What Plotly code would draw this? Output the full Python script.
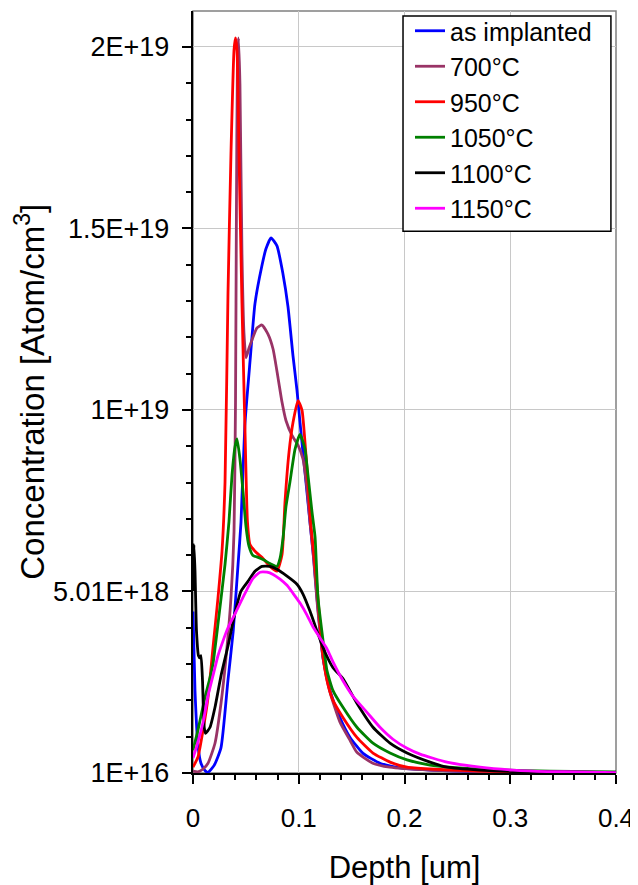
import numpy as np
import plotly.graph_objects as go

# depth in um, concentration in units of 1E+18 atom/cm3
dep_asimp = [0, 0.0019, 0.0047, 0.0076, 0.0113, 0.0142, 0.020, 0.0265, 0.033, 0.038, 0.0426, 0.0454, 0.049,
             0.054, 0.0586, 0.065, 0.069, 0.0738, 0.0794, 0.085, 0.0898, 0.0946, 0.0983, 0.1012, 0.1059, 0.1106,
             0.1144, 0.1173, 0.123, 0.1296, 0.139, 0.1485, 0.1608, 0.1768, 0.1957, 0.224, 0.271, 0.338, 0.4]
c_asimp = [4.46, 2.27, 0.77, 0.27, 0.08, 0.03, 0.22, 0.71, 2.55, 3.91, 5.75, 6.92, 9.58,
           11.38, 12.94, 13.96, 14.45, 14.75, 14.53, 13.77, 12.86, 11.49, 10.56, 9.66, 8.29, 6.92,
           5.83, 4.82, 3.17, 2.27, 1.53, 0.99, 0.55, 0.28, 0.15, 0.09, 0.04, 0.02, 0.02]

dep_700 = [0, 0.0047, 0.0095, 0.0142, 0.0208, 0.0265, 0.0312, 0.0359, 0.0388, 0.0402, 0.0411, 0.042, 0.043,
           0.0444, 0.0463, 0.0482, 0.0501, 0.053, 0.0558, 0.0605, 0.0652, 0.0709, 0.0757, 0.0804, 0.0842,
           0.0879, 0.0936, 0.0993, 0.104, 0.1078, 0.1106, 0.1135, 0.1173, 0.123, 0.1296, 0.139, 0.1485,
           0.155, 0.170, 0.186, 0.224, 0.271, 0.338, 0.4]
c_700 = [0.06, 0.04, 0.12, 0.28, 0.83, 1.93, 3.18, 4.83, 6.66, 10.22, 15.69, 19.52, 20.26,
         18.98, 14.32, 12.13, 11.45, 11.72, 11.94, 12.27, 12.35, 12.10, 11.69, 10.90, 10.22,
         9.72, 9.31, 9.04, 8.66, 7.84, 6.93, 6.11, 4.74, 3.18, 2.23, 1.41, 0.91,
         0.58, 0.28, 0.17, 0.09, 0.05, 0.03, 0.02]

dep_950 = [0, 0.0047, 0.0095, 0.0142, 0.0189, 0.0236, 0.0274, 0.0303, 0.0331, 0.0359, 0.0388, 0.0402, 0.0416,
           0.0435, 0.0463, 0.0492, 0.0515, 0.0539, 0.0596, 0.0662, 0.0728, 0.0794, 0.0842, 0.087, 0.0908,
           0.0946, 0.0993, 0.1031, 0.1059, 0.1087, 0.1116, 0.1135, 0.1173, 0.122, 0.1267, 0.1324, 0.1418,
           0.155, 0.1702, 0.1863, 0.2024, 0.2241, 0.2714, 0.3376, 0.4]
c_950 = [0.17, 0.45, 1.19, 2.09, 3.46, 4.83, 6.11, 8.03, 13.23, 17.06, 19.93, 20.26, 19.93,
         17.06, 12.95, 9.40, 6.93, 6.30, 6.09, 5.92, 5.70, 5.57, 6.03, 7.48, 8.85,
         9.67, 10.27, 10.00, 9.12, 8.03, 6.80, 6.25, 5.15, 3.46, 2.56, 2.01, 1.54,
         0.99, 0.56, 0.31, 0.17, 0.12, 0.06, 0.04, 0.02]

dep_1050 = [0, 0.0047, 0.0113, 0.0161, 0.0189, 0.0236, 0.0303, 0.034, 0.0369, 0.0397, 0.0416, 0.0444, 0.0473,
            0.0501, 0.053, 0.0567, 0.0615, 0.0662, 0.0728, 0.0794, 0.0823, 0.0851, 0.0879, 0.0917, 0.0965,
            0.1012, 0.1059, 0.1087, 0.1125, 0.1154, 0.1182, 0.123, 0.1267, 0.1324, 0.1418, 0.155, 0.1702,
            0.1863, 0.2024, 0.2241, 0.2714, 0.3376, 0.4]
c_1050 = [0.64, 1.19, 2.09, 2.64, 3.02, 4.11, 5.76, 6.93, 8.22, 8.99, 9.21, 8.66, 7.76,
          6.80, 6.25, 6.00, 5.95, 5.89, 5.78, 5.70, 5.92, 6.47, 7.34, 8.03, 8.93,
          9.34, 8.93, 8.22, 7.21, 6.52, 4.83, 3.65, 2.83, 2.28, 1.82, 1.27, 0.83,
          0.56, 0.37, 0.23, 0.12, 0.06, 0.04]

dep_1100 = [0, 0.0009, 0.0019, 0.0033, 0.0052, 0.0066, 0.0076, 0.009, 0.0104, 0.0118, 0.0161, 0.0208, 0.0265,
            0.0331, 0.0397, 0.0454, 0.052, 0.0586, 0.0652, 0.0728, 0.0794, 0.0889, 0.0983, 0.104, 0.1106,
            0.1173, 0.123, 0.1324, 0.1418, 0.155, 0.1702, 0.1863, 0.2024, 0.2241, 0.2402, 0.2714, 0.3026,
            0.347, 0.4]
c_1100 = [5.02, 6.30, 5.57, 3.92, 3.24, 3.18, 3.24, 2.55, 1.32, 1.10, 1.27, 1.82, 2.69,
          3.51, 4.42, 5.02, 5.29, 5.57, 5.70, 5.70, 5.62, 5.43, 5.21, 4.94, 4.47,
          3.92, 3.46, 2.91, 2.61, 1.93, 1.27, 0.83, 0.56, 0.31, 0.17, 0.09, 0.05,
          0.04, 0.02]

dep_1150 = [0, 0.0047, 0.0095, 0.0142, 0.0189, 0.0236, 0.0284, 0.0331, 0.0397, 0.0454, 0.0511, 0.0567, 0.0634,
            0.07, 0.0757, 0.0823, 0.0889, 0.0946, 0.1012, 0.1078, 0.1135, 0.1201, 0.1267, 0.1324, 0.1418,
            0.1513, 0.1645, 0.1768, 0.1891, 0.2024, 0.2147, 0.2402, 0.2714, 0.3026, 0.3348, 0.366, 0.4]
c_1150 = [0.42, 0.86, 1.41, 2.14, 2.69, 3.24, 3.65, 4.01, 4.39, 4.74, 5.07, 5.37, 5.54,
          5.54, 5.48, 5.35, 5.18, 4.96, 4.69, 4.36, 4.03, 3.73, 3.43, 3.07, 2.55,
          2.12, 1.68, 1.27, 0.94, 0.69, 0.53, 0.31, 0.17, 0.09, 0.05, 0.04, 0.02]

names = ["as implanted", "700°C", "950°C", "1050°C", "1100°C", "1150°C"]
colors = ["#0000FF", "#993366", "#FF0000", "#008000", "#000000", "#FF00FF"]
depths = [dep_asimp, dep_700, dep_950, dep_1050, dep_1100, dep_1150]
concs = [c_asimp, c_700, c_950, c_1050, c_1100, c_1150]

y_tickvals = [1e16, 5.01e18, 1.001e19, 1.501e19, 2.001e19]
y_ticktext = ["1E+16", "5.01E+18", "1E+19", "1.5E+19", "2E+19"]

fnt = "Arial, Liberation Sans, sans-serif"

fig = go.Figure()
for n, col, d, c in zip(names, colors, depths, concs):
    fig.add_trace(go.Scatter(x=d, y=np.array(c) * 1e18, name=n, mode="lines",
                             line=dict(color=col, width=2.8, shape="spline", smoothing=0.5),
                             legendgroup=n))

# page body has an 8px margin, so the figure is a bit smaller than the window
fig.update_layout(
    width=630, height=877,
    margin=dict(l=185, r=22, t=0, b=112),
    plot_bgcolor="white", paper_bgcolor="white",
    font=dict(family=fnt, color="black"),
    showlegend=True,
    legend=dict(x=0.513, y=1.004, xanchor="left", yanchor="top",
                borderwidth=0, bgcolor="rgba(0,0,0,0)",
                font=dict(size=25, family=fnt), tracegroupgap=0),
    xaxis=dict(range=[0, 0.4], dtick=0.1, tick0=0, showgrid=True, gridcolor="#c8c8c8", gridwidth=1,
               zeroline=False, showline=True, linecolor="black", linewidth=1.5,
               ticks="outside", ticklen=9, tickcolor="black", tickwidth=1.5,
               minor=dict(dtick=0.02, tick0=0, ticks="outside", ticklen=5, tickcolor="black", showgrid=False),
               tickfont=dict(size=26), ticklabelstandoff=12,
               title=dict(text="Depth [um]", font=dict(size=31), standoff=25),
               automargin=False),
    yaxis=dict(range=[1e16, 2.1e19], tickmode="array", tickvals=y_tickvals,
               ticktext=[t + "\u00a0" for t in y_ticktext],
               showgrid=True, gridcolor="#c8c8c8", gridwidth=1,
               zeroline=False, showline=True, linecolor="black", linewidth=1.5,
               ticks="outside", ticklen=9, tickcolor="black", tickwidth=1.5,
               minor=dict(tickmode="linear", dtick=1e18, tick0=1e16, ticks="outside", ticklen=5,
                          tickcolor="black", showgrid=False),
               tickfont=dict(size=27),
               automargin=False),
    annotations=[dict(text="Concentration [Atom/cm<sup>3</sup>]", xref="paper", yref="paper",
                      x=-0.386, y=0.5, xanchor="center", yanchor="middle", textangle=-90,
                      showarrow=False, font=dict(size=33, family=fnt))],
    shapes=[dict(type="rect", xref="paper", yref="paper", x0=0, x1=1, y0=0, y1=1,
                 line=dict(color="#808080", width=1.5), layer="below"),
            dict(type="rect", xref="paper", yref="paper", x0=0.4965, x1=0.988, y0=0.711, y1=0.9935,
                 line=dict(color="black", width=1.5), fillcolor="white", layer="above")],
)

fig.write_html("out.html")
